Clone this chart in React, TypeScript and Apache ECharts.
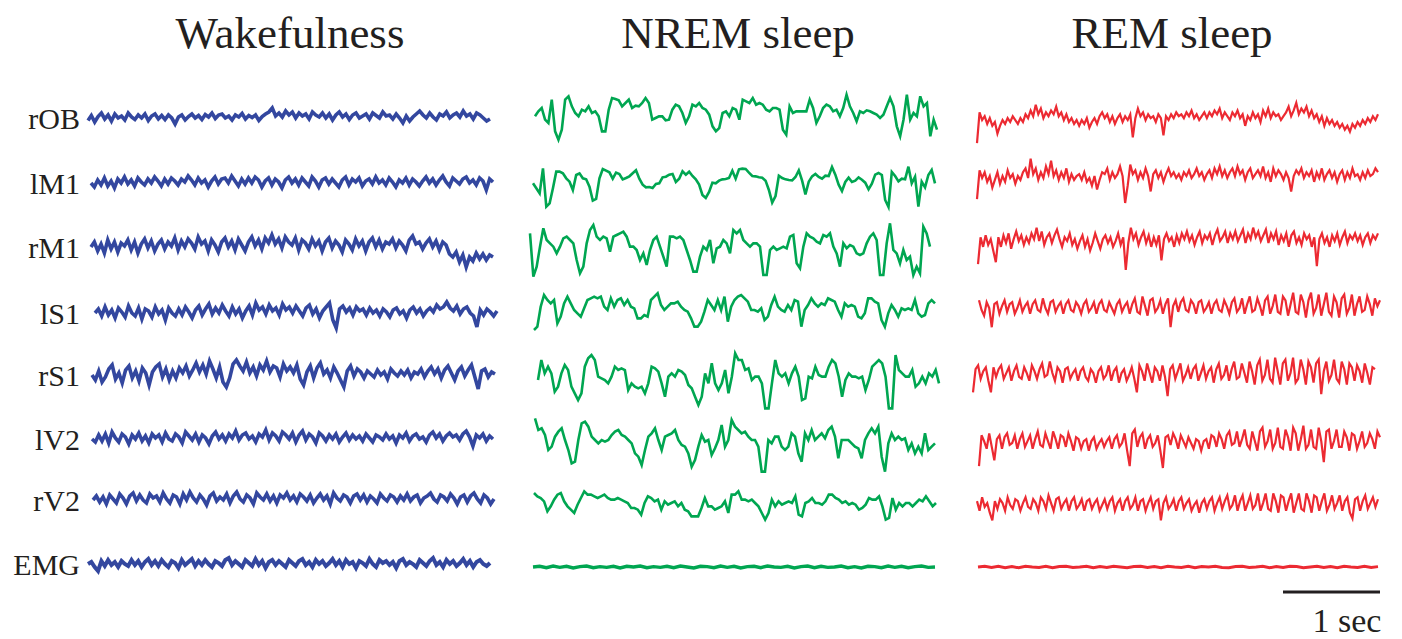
import React, { useEffect, useRef } from "react";
import * as echarts from "echarts";

// ---- titles and channel labels ----
const stateTitles = ["Wakefulness", "NREM sleep", "REM sleep"];
const channels = ["rOB", "lM1", "rM1", "lS1", "rS1", "lV2", "rV2", "EMG"];
const scaleLabel = "1 sec";

// ---- trace values (signal deflection, arbitrary units, up = positive) ----
// Wakefulness
const wakeROB = [-5,5,-8,3,10,-2,6,-6,8,0,4,-4,10,2,-3,6,0,8,-5,4,8,-2,5,-3,6,0,-12,2,6,-4,3,8,0,5,-3,7,2,10,-1,6,8,0,4,-4,6,2,9,-2,5,1,6,-5,3,8,12,20,4,10,2,14,6,12,0,10,4,8,-2,12,6,2,10,0,8,-4,6,12,2,8,-3,6,10,0,4,8,-2,10,5,0,12,4,6,-2,8,0,-10,4,-6,2,8,14,6,0,10,2,-4,8,4,12,0,6,10,2,14,4,8,-2,10,6,0,-6,-2];
const wakeLM1 = [0,-8,6,-4,10,-6,4,-10,8,0,12,-2,6,-6,10,2,-4,8,0,12,4,-6,8,-2,10,4,-4,8,2,14,6,-4,10,0,6,-8,4,12,-2,8,10,0,14,4,-6,8,-2,10,0,12,6,-8,4,10,-4,8,2,-10,6,12,0,8,-4,10,2,-6,12,4,-8,6,10,-2,8,0,-8,6,12,-4,8,2,10,-6,4,8,-2,12,0,6,-4,10,2,-8,6,0,10,-4,8,2,-6,4,12,0,8,-4,6,14,2,-6,10,4,-2,8,12,0,6,-4,10,4,-14,8,2];
const wakeRM1 = [0,10,-8,6,-12,14,-4,10,-10,8,2,14,-6,10,-12,6,16,-2,12,-8,6,14,-4,10,2,18,-6,12,0,16,8,-4,20,6,12,-8,14,4,-10,10,18,0,12,-6,16,4,-8,10,20,2,14,-4,18,8,24,6,16,-2,20,10,4,18,-6,14,8,-4,16,2,12,-8,10,18,-2,12,4,-10,14,6,-6,16,2,12,-8,10,18,0,14,-4,10,6,16,-2,12,4,-8,14,22,6,10,-4,8,16,0,12,-6,10,4,-14,-20,-10,-30,-16,-40,-20,-28,-12,-24,-14,-26,-16,-20];
const wakeLS1 = [0,8,-6,12,-4,6,-10,10,2,-8,14,0,-6,10,-12,8,4,-8,12,-2,6,-14,10,0,-6,8,-4,12,2,-10,6,14,-4,8,18,-2,10,0,16,4,-6,12,-2,8,-10,4,14,-4,20,6,12,-2,16,4,10,-4,18,6,12,0,14,4,-6,10,16,-2,8,-10,4,12,20,-14,-30,8,14,2,10,-4,12,4,8,-4,10,0,6,-6,8,2,-8,6,10,-2,4,-10,6,12,0,8,-6,4,10,2,16,8,12,22,10,4,14,-2,8,12,0,-6,-28,6,-4,8,2,-6,4];
const wakeRS1 = [0,-10,8,-14,-4,12,20,-8,4,-16,10,18,-6,8,-12,14,4,-20,6,16,22,-4,12,-10,8,-6,14,4,18,-2,10,24,6,20,2,28,12,-6,16,-14,-24,-6,22,30,18,8,26,4,16,-2,20,10,28,6,18,14,-4,22,8,16,4,20,-8,-20,6,18,-6,14,24,2,10,-6,16,4,-10,-24,8,18,-2,12,6,-6,8,2,-4,10,0,6,-8,12,4,-2,8,0,10,-6,6,2,12,-4,8,16,2,12,-6,10,18,4,-10,8,16,-2,10,20,-4,-28,8,12,-4,6,2];
const wakeLV2 = [0,-6,8,-4,10,-8,14,2,-6,10,4,-10,8,0,12,-4,6,-8,10,2,8,-6,12,0,-4,10,4,-8,14,6,-2,10,-6,8,2,-10,6,14,0,8,-4,10,2,16,-2,8,12,0,6,-6,10,4,18,-2,12,6,-4,14,8,0,12,-6,8,16,-2,10,4,-8,12,6,-4,8,0,10,-6,4,12,-2,8,0,6,-4,10,2,-6,8,4,-2,10,0,6,-8,8,2,12,-4,6,10,0,4,-6,8,14,2,10,-4,6,12,4,8,-2,10,16,4,-14,8,2,10,-4,6,0];
const wakeRV2 = [0,8,-4,6,-8,10,2,-6,12,4,-8,8,14,-2,10,0,-6,12,4,8,-4,14,2,-6,10,6,-8,12,0,16,4,-4,10,2,-10,8,14,-2,6,0,12,-6,8,16,2,-4,10,4,-8,14,6,0,12,-2,8,-6,10,4,14,0,8,-4,12,6,-2,10,-6,4,12,0,8,-8,14,4,-2,10,6,-6,8,12,0,10,-4,8,2,-6,12,4,-2,10,6,-4,8,0,12,-2,6,10,-6,4,8,14,2,-4,10,6,-2,12,4,-8,6,10,-4,8,14,2,-6,10,4,-8,2];
const wakeEMG = [0,4,-6,-14,6,-4,8,-2,4,-6,6,0,-4,8,-2,6,-6,4,10,-2,6,-4,8,0,-6,6,2,-8,8,-2,4,10,-4,6,-2,8,0,-6,6,2,-4,8,12,-2,6,0,-6,8,2,-4,10,-2,6,-8,4,8,-2,6,0,-6,8,2,-4,6,10,-2,4,-6,8,0,6,-4,2,10,-2,6,-6,8,0,4,-8,6,2,-4,10,0,-6,8,2,6,-2,4,-8,6,10,-2,4,0,-6,8,2,-4,6,12,-2,4,-6,8,0,6,-4,2,10,-2,6,-6,4,8,0,-4,2];

// NREM sleep
const nremROB = [-10,5,15,-20,-30,40,-55,-80,-50,40,50,20,0,-10,10,5,20,0,5,-10,-55,-55,10,45,42,38,20,30,40,15,22,20,30,45,30,-20,-15,-10,-10,-22,-20,10,25,20,0,-30,-10,25,20,30,15,10,-5,-40,-55,-45,0,5,-10,15,10,-20,40,35,30,45,25,30,25,10,5,15,15,10,-50,-65,20,0,5,5,5,5,40,15,-30,-10,15,25,20,5,10,-10,15,55,20,0,-25,5,0,8,5,0,-5,-15,-5,20,45,20,-40,-70,-20,55,-20,0,-10,50,20,30,-70,-20,-50];
const nremLM1 = [-10,-25,-40,35,-80,-70,-25,25,25,20,5,-5,-30,15,20,5,2,-20,-62,-57,5,33,28,23,4,22,18,2,6,11,20,29,4,-14,-22,-21,-24,-12,-10,8,10,16,18,-6,4,26,16,25,12,2,-14,-45,-54,-36,-8,-10,-2,2,3,6,28,4,32,34,33,22,12,11,8,7,-2,-30,-68,-48,13,6,2,0,-1,9,29,-2,-43,-5,11,18,9,4,13,12,39,16,-14,-33,-6,7,-6,-2,8,1,-8,-28,-11,16,21,15,-60,-81,24,12,-4,4,2,40,-10,10,-80,-5,-22,15,30,-10];
const nremRM1 = [50,-80,-50,10,65,30,20,10,-10,10,35,40,30,20,-30,-70,-50,20,60,75,40,30,40,35,-5,40,45,50,55,40,10,10,0,-30,-10,-45,0,30,40,10,-20,-50,40,40,35,40,30,0,-30,-65,-65,-20,10,0,30,-40,5,10,30,20,-10,60,50,60,30,20,10,20,20,10,-75,-75,0,10,0,5,10,5,40,45,-40,-55,10,50,40,35,25,20,45,40,50,10,-10,-50,20,5,15,10,-10,-15,-10,20,40,50,30,-75,-75,20,80,0,-10,-40,0,-30,-20,-75,-50,-70,70,50,10];
const nremLS1 = [-60,-50,10,45,30,20,30,-40,-20,20,40,20,0,-10,-20,5,30,35,40,35,40,10,0,35,10,30,35,15,30,10,5,-25,-25,-15,-20,30,40,50,15,0,10,20,20,25,10,0,-5,-25,-50,-50,-35,-5,30,15,0,30,0,40,-35,10,30,40,45,35,25,0,0,-5,5,-30,-20,15,40,10,0,-5,15,0,30,25,-50,0,15,35,20,10,20,15,35,30,25,0,-20,20,10,15,10,-20,-25,-10,35,35,25,20,-30,-50,-10,15,0,-20,5,0,5,0,30,-10,-20,-15,20,30,20];
const nremRS1 = [0,60,20,40,20,-35,-20,20,45,30,-20,-40,-60,-40,40,65,75,60,10,5,0,-10,10,40,30,35,30,-30,-10,-20,-25,-20,-40,-10,40,35,25,-10,-50,10,20,10,30,25,15,-15,-25,-50,-75,-50,20,-10,50,-10,-30,-10,30,-40,10,80,60,60,30,35,0,10,10,-10,-85,-85,-10,60,20,10,20,-10,20,40,10,-60,-55,10,5,40,15,10,10,40,60,50,10,-50,0,20,10,10,5,10,-30,0,40,50,60,50,10,-85,-85,75,30,20,10,10,30,-20,-10,10,-10,20,10,30,-10];
const nremLV2 = [65,30,35,15,-30,-20,10,25,35,0,-30,-70,-65,0,50,55,40,10,0,-10,0,-5,0,15,25,30,15,10,0,-10,-40,-50,-75,-30,10,20,35,0,-30,10,15,20,30,0,-15,-20,-40,-80,-60,-20,15,-5,0,-45,-25,0,45,-20,0,60,40,30,20,25,10,0,0,-20,-95,-95,0,-10,10,10,-20,-30,-20,20,10,-40,-65,20,0,30,0,10,20,5,30,40,10,-55,0,0,0,-10,-20,-25,-55,0,20,35,20,40,-50,-95,-10,20,0,10,0,5,-30,-10,-40,-20,-40,20,-30,-20,-10];
const nremRV2 = [30,20,15,5,-25,-10,10,25,30,5,-10,-20,-30,-5,15,35,25,25,20,15,20,25,15,10,10,15,10,5,0,-15,-15,-20,-35,0,20,15,5,10,-20,5,-5,0,5,-10,0,-20,-25,-40,-40,-40,-15,15,-10,-10,-20,-15,-10,5,-30,25,25,35,10,10,5,10,0,-10,-30,-50,-30,10,-10,5,-5,0,5,0,20,-35,-40,0,5,15,0,0,-5,5,25,25,15,10,0,5,-5,0,-5,-20,-15,-5,15,10,10,20,-10,-50,-45,15,-20,0,-10,0,0,-10,0,10,5,20,5,-10,0];
const nremEMG = [0,2,-2,3,-1,2,-3,1,3,-2,1,-1,2,-3,2,0,3,-2,1,-1,2,-2,3,0,-3,2,1,-2,3,-1,2,-3,1,2,-2,3,0,-1,2,-3,1,3,-2,2,-1,0,3,-2,1,-3,2,1,-2,3,-1,2,-2,1,3,-1,0];

// REM sleep
const remROB = [-55,25,5,15,-5,10,-10,0,-30,-10,5,-5,10,0,15,5,-5,10,0,20,10,30,15,45,20,35,10,25,15,30,20,40,15,25,5,20,0,10,-5,5,-10,5,-5,10,-15,0,10,-5,15,25,10,20,0,15,-5,10,20,0,15,5,20,-40,10,35,15,25,5,20,10,15,0,20,10,-35,15,5,20,10,25,15,20,10,25,15,30,10,20,5,15,25,10,25,15,30,20,35,10,25,15,5,25,15,30,10,20,-10,15,5,25,10,20,0,30,15,35,10,25,15,20,5,15,25,40,15,30,50,20,35,25,40,15,30,10,20,0,15,-10,10,-5,5,-10,0,-15,-5,-20,-10,-25,-5,-15,0,-10,5,-5,10,0,15,5,20];
const remLM1 = [-55,20,0,15,-10,5,-25,-5,15,-15,5,-10,20,0,10,-15,5,-5,15,25,0,50,10,25,-5,15,0,30,10,45,5,20,-5,15,0,25,-10,10,-5,5,10,-5,15,-10,0,-20,5,-30,-5,15,10,25,-5,15,0,10,30,5,-65,-20,35,10,20,-5,15,0,25,5,-35,10,20,0,15,-10,10,25,5,15,0,10,-5,15,5,20,0,10,25,5,15,-5,10,20,0,25,10,30,5,20,0,15,25,5,30,10,20,-5,15,25,0,10,20,5,30,0,15,-10,25,5,20,10,-5,15,0,-35,5,20,10,25,0,15,5,20,-10,15,0,25,-5,10,20,0,15,-10,10,20,-5,15,0,25,5,10,-5,15,0,20,5,10,25,15];
const remRM1 = [-55,15,-10,20,-5,10,-20,-50,15,-10,20,0,25,-15,10,30,5,20,-5,15,0,25,10,40,5,30,-5,15,25,0,20,35,10,-10,15,5,25,-5,10,-15,5,20,-10,10,-20,0,25,5,-15,10,20,0,15,-10,5,25,-5,15,-70,0,40,10,25,-5,15,30,0,20,-10,15,-5,20,-45,10,25,5,15,-10,20,0,25,10,30,5,20,-5,15,30,0,20,10,25,-5,20,35,5,15,30,0,25,10,30,5,20,35,0,25,10,40,15,30,5,20,35,0,25,10,30,-5,20,5,25,-10,20,30,0,15,-5,25,10,20,-10,15,-60,10,25,0,15,-10,20,5,25,-5,15,30,0,20,10,25,5,20,-5,15,25,0,20,10,25];
const remLS1 = [20,-5,-20,15,0,-50,10,15,-15,5,20,-10,10,15,-15,0,20,-10,5,15,-15,10,20,-5,-10,25,0,-15,15,20,-10,5,15,-15,10,20,-5,-10,15,5,-15,10,20,-10,0,15,-15,10,20,-5,-10,15,0,-15,10,20,-10,5,15,-15,10,25,-10,-15,30,5,-20,20,25,-10,0,20,-15,10,25,-50,5,20,-10,15,25,-5,-10,20,10,-15,15,20,-10,0,15,-15,10,20,-5,-10,20,5,-15,15,25,-10,0,25,-15,10,30,-10,-5,25,5,-20,20,30,-15,5,35,-10,-15,30,20,-20,10,40,-10,-15,35,15,-25,20,40,-15,0,35,-20,10,40,-10,-20,30,15,-25,25,35,-15,0,35,-20,10,30,-10,-5,30,10,-20,25,5,20];
const remRS1 = [-45,15,25,-10,10,20,-15,-45,20,-5,15,25,-10,5,20,-15,10,25,-5,-10,20,5,-15,25,10,-10,15,30,-5,0,35,5,-15,20,10,-20,15,20,-10,5,15,-15,10,20,-5,-15,15,5,-20,10,20,-10,0,25,-15,10,20,-20,5,15,-15,0,20,-10,-45,25,10,-15,30,5,-20,20,10,-15,25,-5,-55,15,25,-10,10,30,-15,0,20,-10,15,25,-15,5,25,-10,10,20,-20,15,30,-10,0,25,-15,15,35,-10,-5,30,5,-20,35,10,-25,25,40,-15,0,40,-10,-20,45,10,-25,30,40,-15,5,45,-20,-10,40,15,-25,35,20,-20,30,40,-50,10,35,-15,0,40,-10,-20,35,15,-25,30,20,-15,25,10,-20,30,5,-25,20,15];
const remLV2 = [-60,20,5,-15,25,-10,-45,10,20,-15,15,25,-5,0,20,-15,10,25,-10,5,20,-15,10,30,-5,-10,25,5,-15,30,10,-15,20,15,-10,25,5,-20,15,10,-15,5,10,-20,5,15,-15,0,10,-10,5,15,-15,10,20,-10,0,25,-20,-60,25,35,-10,15,25,-15,10,20,-10,0,20,-20,-65,15,20,-5,25,10,-15,20,5,-10,15,0,-15,10,5,-20,5,10,-15,20,15,-10,25,10,-15,20,30,-5,0,30,-10,10,35,-5,-15,30,5,-20,30,40,-10,5,35,-15,0,40,-10,-15,35,15,-20,40,25,-20,10,45,-15,-5,35,-10,-15,40,5,-50,30,35,-15,5,35,-10,-10,30,15,-20,25,20,-15,5,30,-10,0,25,10,-15,30,15];
const remRV2 = [10,-15,20,-5,5,-20,-40,10,-10,15,5,-15,20,0,-10,15,10,-15,5,20,-5,-10,15,5,-15,20,10,-10,25,5,-15,15,20,-10,5,15,-15,10,20,-10,0,15,-15,10,15,-10,5,15,-15,0,15,-10,10,20,-15,5,15,-15,10,20,-10,0,20,-15,10,15,-15,5,20,-10,10,15,-40,5,20,-10,0,15,-15,10,20,-10,5,15,-15,0,10,-20,5,15,-10,10,20,-15,5,20,-10,10,25,-10,0,25,-15,10,25,-15,5,25,-10,0,30,-15,5,30,-10,-15,30,10,-20,25,20,-15,10,30,-20,5,30,-10,-15,30,10,-20,25,20,-15,10,30,-15,0,25,-10,5,25,-15,10,20,-20,-35,15,20,-15,10,25,-10,5,20,-5,15];
const remEMG = [0,2,-1,2,-2,1,-2,2,0,-1,2,-2,1,2,-1,0,2,-2,1,-1,2,0,-2,1,2,-1,1,-2,2,0,-1,2,-2,1,0,2,-1,-2,1,2,-1,0,2,-2,1,-1,2,1,-2,0,2,-1,1,-2,2,0,-1,2,-1,1];

const stateTraces = [
  [wakeROB, wakeLM1, wakeRM1, wakeLS1, wakeRS1, wakeLV2, wakeRV2, wakeEMG],
  [nremROB, nremLM1, nremRM1, nremLS1, nremRS1, nremLV2, nremRV2, nremEMG],
  [remROB, remLM1, remRM1, remLS1, remRS1, remLV2, remRV2, remEMG],
];

// ---- layout (pixels): [left, right, baseline] for each trace ----
const layout = [
  [[88, 490, 118], [91, 493, 183], [91, 493, 247], [95, 497, 313], [92, 495, 375], [92, 493, 439], [93, 494, 500], [88, 490, 564]],
  [[535, 937, 113], [533, 935, 180], [530, 930, 250], [534, 935, 310], [538, 939, 380], [535, 935, 440], [534, 936, 503], [533, 935, 567]],
  [[977, 1378, 122], [977, 1378, 178], [978, 1378, 243], [979, 1380, 308], [973, 1375, 375], [979, 1380, 443], [977, 1378, 505], [978, 1378, 567]],
];
const colors = ["#33479f", "#00a651", "#ec2a32"];
const widths = [3.6, 2.6, 2.2];
const emgWidths = [4, 3.4, 3];
const unitsPerPx = [2, 3, 2.6];
const titleX = [290, 738, 1172];
const GRID_H = 100; // px

export default function App() {
  const ref = useRef<HTMLDivElement>(null);
  useEffect(() => {
    if (!ref.current) return;
    const chart = echarts.init(ref.current, undefined, { renderer: "svg" });
    const grids: any[] = [];
    const xAxes: any[] = [];
    const yAxes: any[] = [];
    const series: any[] = [];
    let k = 0;
    stateTraces.forEach((traces, s) => {
      traces.forEach((vals, c) => {
        const [l, r, b] = layout[s][c];
        grids.push({ left: l, top: b - GRID_H / 2, width: r - l, height: GRID_H });
        xAxes.push({ type: "value", gridIndex: k, min: 0, max: vals.length - 1, show: false });
        const half = (GRID_H / 2) * unitsPerPx[s];
        yAxes.push({ type: "value", gridIndex: k, min: -half, max: half, show: false });
        series.push({
          type: "line",
          xAxisIndex: k,
          yAxisIndex: k,
          data: vals.map((v, i) => [i, v]),
          showSymbol: false,
          silent: true,
          lineStyle: { color: colors[s], width: c === 7 ? emgWidths[s] : widths[s], join: "miter" },
        });
        k++;
      });
    });
    const font = "'Liberation Serif', 'Times New Roman', serif";
    const graphics: any[] = [];
    stateTitles.forEach((t, s) => {
      graphics.push({
        type: "text",
        x: titleX[s],
        y: 33,
        style: { text: t, font: `45px ${font}`, fill: "#231f20", align: "center", verticalAlign: "middle" },
      });
    });
    channels.forEach((ch, c) => {
      graphics.push({
        type: "text",
        x: 80,
        y: layout[0][c][2],
        style: { text: ch, font: `30px ${font}`, fill: "#231f20", align: "right", verticalAlign: "middle" },
      });
    });
    graphics.push({
      type: "line",
      shape: { x1: 1283, y1: 592, x2: 1380, y2: 592 },
      style: { stroke: "#231f20", lineWidth: 3 },
    });
    graphics.push({
      type: "text",
      x: 1347,
      y: 620,
      style: { text: scaleLabel, font: `34px ${font}`, fill: "#231f20", align: "center", verticalAlign: "middle" },
    });
    chart.setOption({
      animation: false,
      backgroundColor: "#ffffff",
      grid: grids,
      xAxis: xAxes,
      yAxis: yAxes,
      series,
      graphic: graphics,
    });
    return () => chart.dispose();
  }, []);
  return <div ref={ref} style={{ position: "absolute", left: 0, top: 0, width: 1402, height: 639 }} />;
}
